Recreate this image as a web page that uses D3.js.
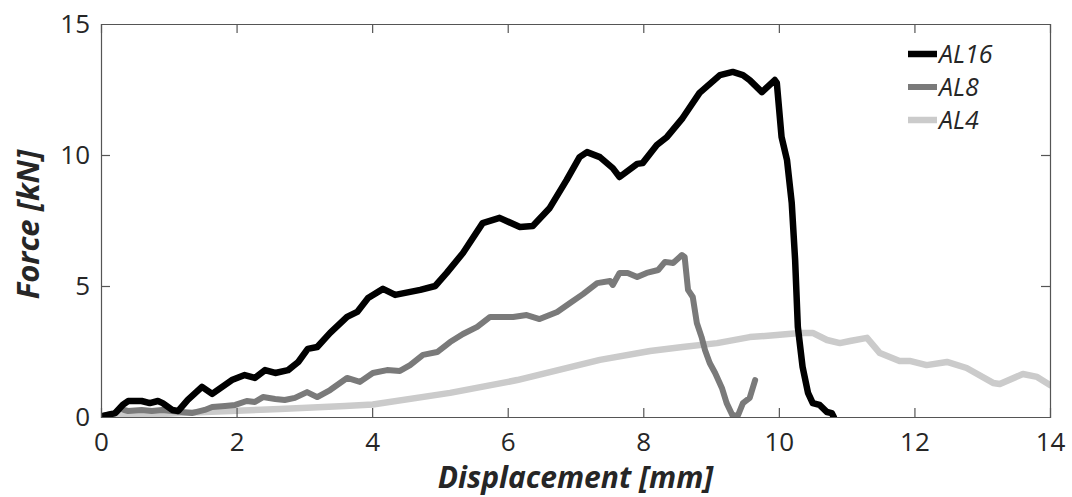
<!DOCTYPE html>
<html>
<head>
<meta charset="utf-8">
<script src="https://cdn.jsdelivr.net/npm/d3@7"></script>
<style>
  body { margin: 0; background: #fff; }
  text { font-family: "Open Sans", "Noto Sans", sans-serif; fill: #262626; }
</style>
</head>
<body>
<svg width="1072" height="497"></svg>
<script>
// displacement [mm], force [kN]
const al16X = [0.03,0.21,0.32,0.40,0.60,0.72,0.84,0.91,1.05,1.14,1.28,1.49,1.64,1.93,2.12,2.27,2.42,2.57,2.76,2.91,3.05,3.19,3.38,3.63,3.78,3.94,4.16,4.34,4.71,4.93,5.10,5.34,5.63,5.88,6.18,6.37,6.62,6.87,7.06,7.17,7.36,7.55,7.65,7.91,7.99,8.20,8.35,8.58,8.83,9.13,9.32,9.47,9.57,9.75,9.94,9.97,10.04,10.12,10.19,10.24,10.28,10.35,10.43,10.50,10.60,10.71,10.78,10.81];
const al16Y = [0.04,0.15,0.46,0.61,0.61,0.53,0.61,0.53,0.27,0.23,0.65,1.15,0.88,1.41,1.60,1.49,1.79,1.68,1.79,2.10,2.60,2.67,3.21,3.82,4.01,4.54,4.89,4.66,4.85,5.00,5.50,6.26,7.40,7.60,7.25,7.29,7.98,9.05,9.92,10.11,9.92,9.50,9.16,9.66,9.69,10.38,10.69,11.41,12.37,13.05,13.17,13.05,12.86,12.40,12.86,12.75,10.69,9.81,8.17,5.99,3.44,1.91,0.92,0.53,0.46,0.19,0.15,0.0];

const al8X = [0.03,0.21,0.28,0.40,0.60,0.75,0.90,1.05,1.19,1.34,1.53,1.64,1.83,1.98,2.15,2.27,2.39,2.57,2.71,2.86,3.04,3.19,3.38,3.63,3.82,4.01,4.22,4.41,4.56,4.75,4.96,5.15,5.34,5.55,5.74,6.08,6.28,6.47,6.73,6.92,7.11,7.32,7.51,7.55,7.65,7.77,7.91,8.05,8.22,8.32,8.44,8.57,8.61,8.66,8.73,8.79,8.86,8.91,8.98,9.06,9.16,9.23,9.32,9.40,9.47,9.57,9.65];
const al8Y = [0.04,0.15,0.31,0.23,0.27,0.23,0.27,0.23,0.19,0.15,0.27,0.38,0.42,0.46,0.61,0.57,0.76,0.69,0.65,0.73,0.95,0.76,1.03,1.49,1.34,1.68,1.79,1.76,1.98,2.37,2.48,2.86,3.17,3.44,3.82,3.82,3.89,3.74,4.01,4.35,4.69,5.11,5.19,5.04,5.50,5.50,5.34,5.50,5.61,5.92,5.88,6.18,6.11,4.85,4.58,3.59,3.05,2.56,2.06,1.68,1.11,0.53,0.04,0.08,0.53,0.73,1.41];

const al4X = [0.0,1.17,2.64,3.60,4.01,5.15,6.14,7.36,8.10,8.58,9.09,9.57,9.97,10.31,10.50,10.71,10.90,11.05,11.30,11.49,11.78,11.93,12.18,12.48,12.77,13.16,13.26,13.60,13.81,14.0];
const al4Y = [0.0,0.15,0.31,0.42,0.48,0.92,1.41,2.18,2.52,2.67,2.82,3.05,3.13,3.21,3.21,2.94,2.82,2.90,3.02,2.44,2.14,2.14,1.98,2.10,1.87,1.30,1.26,1.64,1.53,1.22];

const seriesNames = ["AL16", "AL8", "AL4"];
const seriesColors = ["#000000", "#7a7a7a", "#cbcbcb"];
const seriesWidths = [6.5, 6, 6.5];
const xTicks = [0, 2, 4, 6, 8, 10, 12, 14];
const yTicks = [0, 5, 10, 15];

const svg = d3.select('svg');
const width = +svg.attr('width');
const height = +svg.attr('height');
const margin = {top: 24, right: 22, bottom: 80, left: 101};
const innerwidth = width - margin.left - margin.right;
const innerheight = height - margin.top - margin.bottom;

const g = svg.append('g')
  .attr('transform', "translate(" + margin.left + "," + margin.top + ")");

const xscale = d3.scaleLinear().domain([0, 14]).range([0, innerwidth]);
const yscale = d3.scaleLinear().domain([0, 15]).range([innerheight, 0]);

g.append('clipPath').attr('id', 'plotclip')
  .append('rect').attr('width', innerwidth).attr('height', innerheight);

const line = d3.line().x(d => xscale(d[0])).y(d => yscale(d[1])).curve(d3.curveLinear);

const allData = [
  d3.zip(al16X, al16Y),
  d3.zip(al8X, al8Y),
  d3.zip(al4X, al4Y)
];

// draw light first so black sits on top
[2, 1, 0].forEach(i => {
  g.append('path')
    .datum(allData[i])
    .attr('d', line)
    .attr('fill', 'none')
    .attr('stroke', seriesColors[i])
    .attr('stroke-width', seriesWidths[i])
    .attr('stroke-linejoin', 'round')
    .attr('stroke-linecap', 'round')
    .attr('clip-path', 'url(#plotclip)');
});

// axes: ticks point inward, box all round
const tickLen = 9;
const axColor = '#555';

const xaxisG = g.append('g').attr('transform', "translate(0," + innerheight + ")")
  .call(d3.axisBottom(xscale).tickValues(xTicks).tickSize(-tickLen).tickPadding(16));
const yaxisG = g.append('g')
  .call(d3.axisLeft(yscale).tickValues(yTicks).tickSize(-tickLen).tickPadding(11));
const xtopG = g.append('g')
  .call(d3.axisTop(xscale).tickValues(xTicks).tickSize(-tickLen).tickFormat(''));
const yrightG = g.append('g').attr('transform', "translate(" + innerwidth + ",0)")
  .call(d3.axisRight(yscale).tickValues(yTicks).tickSize(-tickLen).tickFormat(''));

[xaxisG, yaxisG, xtopG, yrightG].forEach(a => {
  a.select('.domain').attr('stroke', axColor).attr('stroke-width', 1.2);
  a.selectAll('.tick line').attr('stroke', axColor).attr('stroke-width', 1.2);
  a.selectAll('.tick text')
    .attr('font-size', 26)
    .attr('fill', '#262626')
    .style('font-family', '"Open Sans", sans-serif');
});
// clear tick marks that would sit on the box corners
[xaxisG, xtopG].forEach(a => a.selectAll('.tick line').filter(d => d === 0 || d === 14).remove());
[yaxisG, yrightG].forEach(a => a.selectAll('.tick line').filter(d => d === 0 || d === 15).remove());

g.append('text')
  .attr('x', innerwidth / 2)
  .attr('y', innerheight + 71)
  .attr('text-anchor', 'middle')
  .attr('font-size', 30)
  .attr('font-weight', 'bold')
  .attr('font-style', 'italic')
  .text('Displacement [mm]');

g.append('text')
  .attr('transform', "translate(-62," + (innerheight / 2 + 4) + ") rotate(-90)")
  .attr('text-anchor', 'middle')
  .attr('font-size', 31)
  .attr('font-weight', 'bold')
  .attr('font-style', 'italic')
  .text('Force [kN]');

// legend
const legend = g.append('g').attr('transform', "translate(807,30)");
seriesNames.forEach((name, i) => {
  const row = legend.append('g').attr('transform', "translate(0," + (i * 33) + ")");
  row.append('line')
    .attr('x1', 0).attr('x2', 29)
    .attr('stroke', seriesColors[i])
    .attr('stroke-width', seriesWidths[i]);
  row.append('text')
    .attr('x', 31).attr('y', 9)
    .attr('font-size', 25)
    .attr('font-style', 'italic')
    .attr('fill', '#111')
    .text(name);
});
</script>
</body>
</html>
